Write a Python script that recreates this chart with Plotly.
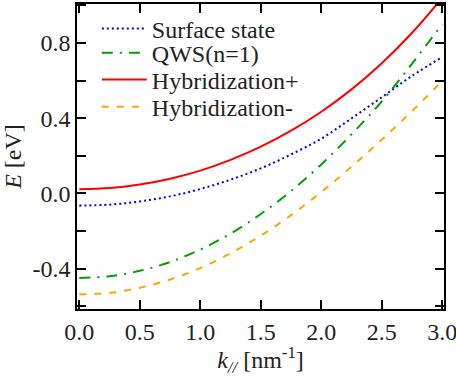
import plotly.graph_objects as go

k = [0.0, 0.25, 0.5, 0.75, 1.0, 1.25, 1.5, 1.75, 2.0, 2.25, 2.5, 2.75, 3.0]
surface = [-0.065, -0.060, -0.043, -0.016, 0.023, 0.073, 0.133, 0.207, 0.291, 0.399, 0.511, 0.625, 0.725]
qws = [-0.450, -0.441, -0.412, -0.365, -0.299, -0.214, -0.110, 0.012, 0.154, 0.314, 0.489, 0.690, 0.900]
hyb_plus = [0.022, 0.028, 0.047, 0.078, 0.121, 0.178, 0.248, 0.333, 0.434, 0.553, 0.692, 0.854, 1.040]
hyb_minus = [-0.537, -0.529, -0.502, -0.458, -0.397, -0.319, -0.225, -0.116, 0.007, 0.142, 0.286, 0.438, 0.598]

x_ticks = [0.0, 0.5, 1.0, 1.5, 2.0, 2.5, 3.0]
x_labels = ["0.0", "0.5", "1.0", "1.5", "2.0", "2.5", "3.0"]
y_ticks = [-0.6, -0.4, -0.2, 0.0, 0.2, 0.4, 0.6, 0.8, 1.0]
y_labels = [" ", "-0.4", " ", "0.0", " ", "0.4", " ", "0.8", " "]

FONT = "Times New Roman"
TXT = "#222"
FS = 24

fig = go.Figure()
fig.add_trace(go.Scatter(x=k, y=surface, mode="lines", name="Surface state", legend="legend",
                         line=dict(color="#0000dd", width=2, dash="2px,3px", shape="spline")))
fig.add_trace(go.Scatter(x=k, y=qws, mode="lines", name="QWS(n=1)", legend="legend2",
                         line=dict(color="#00a000", width=2, dash="11px,7px,2px,7px", shape="spline")))
fig.add_trace(go.Scatter(x=k, y=hyb_plus, mode="lines", name="Hybridization+", legend="legend3",
                         line=dict(color="#ff0000", width=2, shape="spline")))
fig.add_trace(go.Scatter(x=k, y=hyb_minus, mode="lines", name="Hybridization-", legend="legend4",
                         line=dict(color="#ffa500", width=2, dash="7px,8px", shape="spline")))

axis_common = dict(showline=True, linecolor="black", linewidth=1.5, mirror="ticks",
                   ticks="inside", ticklen=9, tickwidth=1.5, tickcolor="black",
                   showgrid=False, zeroline=False, ticklabeloverflow="allow", automargin=False,
                   tickfont=dict(family=FONT, size=FS, color=TXT))

fig.update_xaxes(range=[-0.019, 3.014], tickvals=x_ticks, ticktext=x_labels,
                 title=dict(text="<i>k</i><sub><i>//</i></sub> [nm<sup>-1</sup>]",
                            font=dict(family=FONT, size=FS, color=TXT), standoff=4),
                 **axis_common)
fig.update_yaxes(range=[-0.615, 1.007], tickvals=y_ticks, ticktext=y_labels,
                 title=dict(text="<i>E</i> [eV]", font=dict(family=FONT, size=FS, color=TXT),
                            standoff=6),
                 **axis_common)

def leg(yc):
    return dict(x=0.054, y=yc, xanchor="left", yanchor="middle",
                bgcolor="rgba(0,0,0,0)", font=dict(family=FONT, size=FS, color=TXT),
                itemwidth=45, borderwidth=0)

fig.update_layout(
    width=456, height=377,
    margin=dict(l=77, r=12, t=4, b=68, autoexpand=False),
    paper_bgcolor="white", plot_bgcolor="white",
    legend=leg(0.918), legend2=leg(0.839), legend3=leg(0.751), legend4=leg(0.662),
    showlegend=True,
)

fig.write_html("out.html")
